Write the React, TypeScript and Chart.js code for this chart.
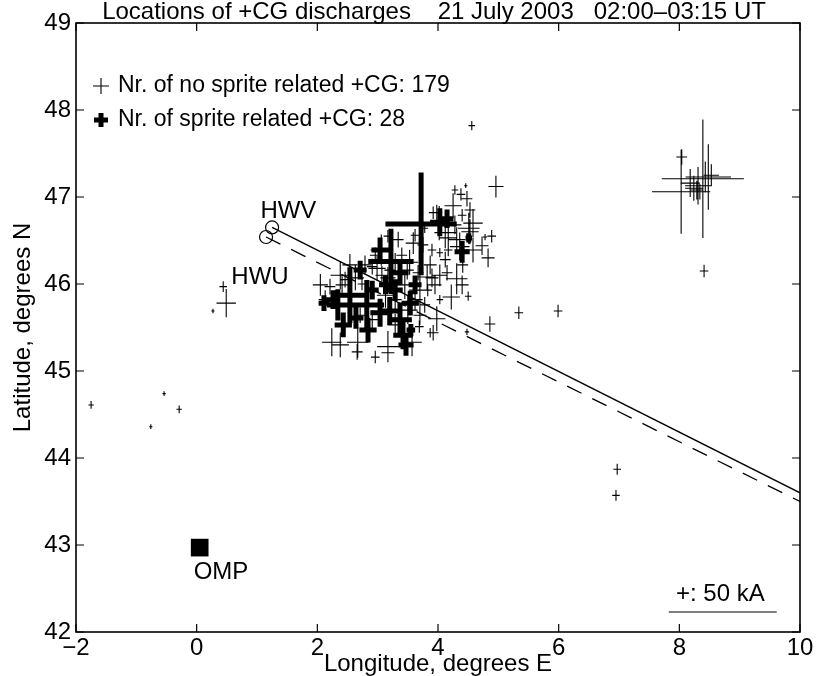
import React, { useEffect, useRef } from 'react';
import { Chart, registerables } from 'chart.js';

Chart.register(...registerables);

// ---------- data ----------
const xTickValues = [-2, 0, 2, 4, 6, 8, 10];
const yTickValues = [42, 43, 44, 45, 46, 47, 48, 49];

// +CG discharges without sprite: longitude (deg E), latitude (deg N), peak current (kA)
const noSpriteLon = [
  8.04, 8.39, 8.03, 8.48, 8.24, 8.29, 8.34, 8.43, 8.53, 8.18, 8.31, 8.41,
  4.96, 4.56, 4.46, 4.38, 4.48, 4.25, 3.98, 4.02, 4.51, 4.53, 4.58, 4.58,
  4.89, 4.78, 4.73, 4.83, 4.36, 4.31, 4.41, 4.12, 3.90, 4.03, 3.59, 3.75,
  4.17, 4.12, 3.92, 2.99, 3.07, 3.17, 2.91, 3.49, 3.67, 3.82, 3.90, 4.03,
  4.15, 4.31, 4.40, 4.22, 4.50, 3.98, 3.69, 3.92, 3.87, 3.57, 4.48, 4.86,
  5.34, 5.99, 6.97, 6.95, 2.24, 2.38, 2.67, 2.66, 2.96, 3.17, 3.17, 2.41,
  0.44, 0.49, 0.27, -1.75, -0.76, -0.54, -0.29, 2.13, 2.21, 2.46, 2.63, 2.74,
  2.96, 3.06, 3.29, 3.40, 3.53, 3.70, 3.62, 3.78, 3.50, 3.29, 3.13, 2.91,
  2.71, 3.29, 3.70, 3.83, 3.95, 4.03, 3.45, 3.20, 2.79, 2.54, 2.38, 2.05,
  4.28, 4.40, 4.17, 3.87, 3.62, 3.78, 3.34, 3.17, 4.53, 4.28
];
const noSpriteLat = [
  47.46, 47.21, 47.06, 47.23, 47.10, 47.08, 47.06, 47.23, 47.25, 47.16, 47.13, 46.15,
  47.12, 47.82, 47.13, 47.03, 46.98, 46.90, 46.82, 46.70, 46.64, 46.60, 46.70, 46.39,
  46.55, 46.54, 46.44, 46.30, 46.43, 46.51, 46.22, 46.28, 46.39, 46.36, 46.47, 46.45,
  46.53, 46.59, 46.82, 46.18, 46.10, 46.07, 46.20, 46.16, 46.13, 46.08, 46.07, 46.10,
  46.13, 46.06, 45.99, 45.85, 45.86, 45.60, 45.51, 45.44, 45.44, 45.33, 45.45, 45.54,
  45.67, 45.69, 43.87, 43.57, 45.33, 45.30, 45.33, 45.22, 45.16, 45.28, 45.21, 45.99,
  45.97, 45.78, 45.69, 44.61, 44.36, 44.74, 44.56, 45.82, 45.97, 46.05, 46.07, 46.00,
  46.33, 46.39, 46.25, 46.33, 46.25, 45.93, 45.82, 45.76, 45.70, 45.82, 45.87, 45.59,
  45.64, 45.53, 45.64, 45.93, 45.99, 45.82, 45.99, 46.16, 46.22, 46.22, 46.10, 45.99,
  46.68, 46.79, 46.39, 46.22, 46.56, 46.64, 46.51, 46.55, 46.85, 47.08
];
const noSpriteKA = [
  5, 38, 27, 21, 8, 6, 5, 10, 7, 9, 12, 4,
  7, 3, 1.5, 4, 5, 8, 5, 11, 10, 8, 9, 8,
  4, 2, 6, 6, 9, 8, 5, 5, 4, 3, 7, 5,
  8, 10, 4, 8, 6, 7, 5, 6, 5, 8, 6, 7,
  5, 10, 6, 8, 3, 8, 4, 5, 3, 9, 2, 5,
  4, 4, 3.5, 3.5, 9, 8, 10, 5, 4, 10, 6, 6,
  3.5, 9, 1.5, 2.5, 1.5, 1.5, 2.5, 6, 5, 5, 8, 4,
  5, 10, 6, 5, 8, 10, 7, 5, 9, 6, 8, 6,
  5, 7, 6, 4, 6, 3, 9, 5, 6, 7, 9, 7,
  6, 4, 4, 6, 4, 3, 5, 4, 5, 3
];

// sprite related +CG discharges
const spriteLon = [
  3.72, 3.22, 2.54, 2.82, 2.34, 2.43, 2.84, 3.04, 3.20, 3.37, 3.42, 3.47, 3.54, 3.37,
  4.15, 4.03, 4.40, 4.51, 3.55, 3.04, 2.26, 2.64, 3.29, 3.13, 2.91, 3.62, 2.71, 2.11
];
const spriteLat = [
  46.69, 46.26, 45.87, 45.76, 45.76, 45.53, 45.47, 45.67, 45.69, 45.59, 45.41, 45.30, 45.78, 46.13,
  46.75, 46.71, 46.37, 46.53, 45.47, 46.39, 45.82, 45.61, 45.93, 45.99, 45.93, 45.99, 46.16, 45.78
];
const spriteKA = [
  33, 21, 18, 16, 10, 8, 8, 9, 9, 11, 9, 7, 8, 8,
  6, 9, 7, 3, 4, 8, 6, 7, 7, 6, 6, 6, 6, 5
];

// observation sites
const circleSiteNames = ['HWV', 'HWU'];
const circleSiteLon = [1.25, 1.15];
const circleSiteLat = [46.65, 46.54];
const ompName = 'OMP';
const ompLon = [0.05];
const ompLat = [42.97];

// viewing lines
const solidLineLon = [1.25, 10];
const solidLineLat = [46.65, 43.6];
const dashedLineLon = [1.15, 10];
const dashedLineLat = [46.54, 43.5];

const legendNoSprite = 'Nr. of no sprite related +CG: 179';
const legendSprite = 'Nr. of sprite related +CG: 28';
const titleText = 'Locations of +CG discharges    21 July 2003   02:00\u201303:15 UT';
const xTitle = 'Longitude, degrees E';
const yTitle = 'Latitude, degrees N';
const scaleKA = 50;
const scaleLabel = '+: 50 kA';

// ---------- rendering constants ----------
const FONT = '"Liberation Sans", Arial, Helvetica, sans-serif';
const FS = 24;
const FS_LEGEND = 23;
const DEG_PER_KA = 1.79 / 50; // full cross length in degrees per kA

function crossPath(ctx: CanvasRenderingContext2D, xs: any, ys: any, lon: number, lat: number, ka: number) {
  const h = (ka * DEG_PER_KA) / 2;
  const cx = xs.getPixelForValue(lon);
  const cy = ys.getPixelForValue(lat);
  ctx.moveTo(xs.getPixelForValue(lon - h), cy);
  ctx.lineTo(xs.getPixelForValue(lon + h), cy);
  ctx.moveTo(cx, ys.getPixelForValue(lat - h));
  ctx.lineTo(cx, ys.getPixelForValue(lat + h));
}

const decorPlugin = {
  id: 'decor',
  afterDatasetsDraw(chart: any) {
    const ctx: CanvasRenderingContext2D = chart.ctx;
    const xs = chart.scales.x;
    const ys = chart.scales.y;
    const a = chart.chartArea;
    ctx.save();
    ctx.beginPath();
    ctx.rect(a.left, a.top, a.right - a.left, a.bottom - a.top);
    ctx.clip();
    ctx.strokeStyle = '#000';
    ctx.lineCap = 'butt';
    ctx.lineWidth = 1.1;
    ctx.beginPath();
    for (let i = 0; i < noSpriteLon.length; i++) crossPath(ctx, xs, ys, noSpriteLon[i], noSpriteLat[i], noSpriteKA[i]);
    ctx.stroke();
    ctx.lineWidth = 5;
    ctx.beginPath();
    for (let i = 0; i < spriteLon.length; i++) crossPath(ctx, xs, ys, spriteLon[i], spriteLat[i], spriteKA[i]);
    ctx.stroke();
    ctx.restore();

    ctx.save();
    ctx.fillStyle = '#000';
    ctx.strokeStyle = '#000';
    ctx.font = `${FS}px ${FONT}`;
    ctx.textBaseline = 'middle';
    ctx.textAlign = 'center';
    ctx.fillText(circleSiteNames[0], xs.getPixelForValue(1.52), ys.getPixelForValue(46.83));
    ctx.fillText(circleSiteNames[1], xs.getPixelForValue(1.05), ys.getPixelForValue(46.08));
    ctx.textAlign = 'left';
    ctx.fillText(ompName, xs.getPixelForValue(-0.05), ys.getPixelForValue(42.68));
    // scale bar
    const barLon = 8.72, barLat = 42.23;
    const half = (scaleKA * DEG_PER_KA) / 2;
    ctx.lineWidth = 1.2;
    ctx.beginPath();
    ctx.moveTo(xs.getPixelForValue(barLon - half), ys.getPixelForValue(barLat));
    ctx.lineTo(xs.getPixelForValue(barLon + half), ys.getPixelForValue(barLat));
    ctx.stroke();
    ctx.textAlign = 'center';
    ctx.fillText(scaleLabel, xs.getPixelForValue(8.68), ys.getPixelForValue(42.43));
    // legend
    const lx = a.left + 25;
    const ly1 = a.top + 63;
    const ly2 = a.top + 97;
    ctx.lineWidth = 1.1;
    ctx.beginPath();
    ctx.moveTo(lx - 8, ly1); ctx.lineTo(lx + 8, ly1);
    ctx.moveTo(lx, ly1 - 8); ctx.lineTo(lx, ly1 + 8);
    ctx.stroke();
    ctx.lineWidth = 5;
    ctx.beginPath();
    ctx.moveTo(lx - 7, ly2); ctx.lineTo(lx + 7, ly2);
    ctx.moveTo(lx, ly2 - 7); ctx.lineTo(lx, ly2 + 7);
    ctx.stroke();
    ctx.font = `${FS_LEGEND}px ${FONT}`;
    ctx.textAlign = 'left';
    ctx.fillText(legendNoSprite, lx + 17, ly1);
    ctx.fillText(legendSprite, lx + 17, ly2);
    ctx.restore();
  },
  afterDraw(chart: any) {
    const ctx: CanvasRenderingContext2D = chart.ctx;
    const xs = chart.scales.x;
    const ys = chart.scales.y;
    const a = chart.chartArea;
    ctx.save();
    ctx.strokeStyle = '#000';
    ctx.lineWidth = 1.6;
    ctx.strokeRect(a.left, a.top, a.right - a.left, a.bottom - a.top);
    ctx.lineWidth = 1.2;
    const tl = 8;
    ctx.beginPath();
    for (const v of xTickValues) {
      const p = xs.getPixelForValue(v);
      ctx.moveTo(p, a.bottom); ctx.lineTo(p, a.bottom - tl);
      ctx.moveTo(p, a.top); ctx.lineTo(p, a.top + tl);
    }
    for (const v of yTickValues) {
      const p = ys.getPixelForValue(v);
      ctx.moveTo(a.left, p); ctx.lineTo(a.left + tl, p);
      ctx.moveTo(a.right, p); ctx.lineTo(a.right - tl, p);
    }
    ctx.stroke();
    ctx.fillStyle = '#000';
    ctx.font = `${FS}px ${FONT}`;
    ctx.textAlign = 'center';
    ctx.textBaseline = 'middle';
    const cx = (a.left + a.right) / 2;
    ctx.fillText(titleText, cx - 4, 12);
    ctx.fillText(xTitle, cx, 664);
    ctx.translate(23, (a.top + a.bottom) / 2);
    ctx.rotate(-Math.PI / 2);
    ctx.fillText(yTitle, 0, 0);
    ctx.restore();
  }
};

export default function App() {
  const ref = useRef<HTMLCanvasElement | null>(null);
  useEffect(() => {
    if (!ref.current) return;
    const pts = (lo: number[], la: number[]) => lo.map((x, i) => ({ x, y: la[i] }));
    const chart = new Chart(ref.current, {
      type: 'scatter',
      data: {
        datasets: [
          { label: 'no sprite', data: pts(noSpriteLon, noSpriteLat), pointRadius: 0 },
          { label: 'sprite', data: pts(spriteLon, spriteLat), pointRadius: 0 },
          {
            type: 'line', label: 'solid', data: pts(solidLineLon, solidLineLat),
            borderColor: '#000', borderWidth: 1.3, pointRadius: 0, fill: false
          },
          {
            type: 'line', label: 'dashed', data: pts(dashedLineLon, dashedLineLat),
            borderColor: '#000', borderWidth: 1.3, borderDash: [16, 12], pointRadius: 0, fill: false
          },
          {
            label: 'sites', data: pts(circleSiteLon, circleSiteLat), pointStyle: 'circle',
            pointRadius: 6.5, borderColor: '#000', borderWidth: 1.2, backgroundColor: 'rgba(0,0,0,0)'
          },
          {
            label: 'OMP', data: pts(ompLon, ompLat), pointStyle: 'rect',
            pointRadius: 12.5, borderColor: '#000', borderWidth: 0, backgroundColor: '#000'
          }
        ]
      } as any,
      options: {
        animation: false,
        responsive: false,
        devicePixelRatio: 1,
        layout: { padding: { top: 23, right: 16, left: 0, bottom: 0 } },
        plugins: { legend: { display: false }, tooltip: { enabled: false }, title: { display: false } },
        scales: {
          x: {
            type: 'linear', min: -2, max: 10,
            afterFit: (s: any) => { s.height = 44; },
            afterBuildTicks: (s: any) => { s.ticks = xTickValues.map(v => ({ value: v })); },
            grid: { display: false, drawTicks: false },
            border: { display: false },
            ticks: {
              autoSkip: false, maxRotation: 0, padding: 2, color: '#000',
              font: { size: FS, family: FONT },
              callback: (v: any) => (v < 0 ? '\u2212' + Math.abs(v) : String(v))
            }
          },
          y: {
            type: 'linear', min: 42, max: 49,
            afterFit: (s: any) => { s.width = 76; },
            afterBuildTicks: (s: any) => { s.ticks = yTickValues.map(v => ({ value: v })); },
            grid: { display: false, drawTicks: false },
            border: { display: false },
            ticks: { autoSkip: false, padding: 5, color: '#000', font: { size: FS, family: FONT } }
          }
        }
      },
      plugins: [decorPlugin]
    } as any);
    return () => chart.destroy();
  }, []);
  return (
    <div style={{ position: 'absolute', left: 0, top: 0, width: 816, height: 676, background: '#fff' }}>
      <canvas ref={ref} width={816} height={676} style={{ display: 'block' }} />
    </div>
  );
}
